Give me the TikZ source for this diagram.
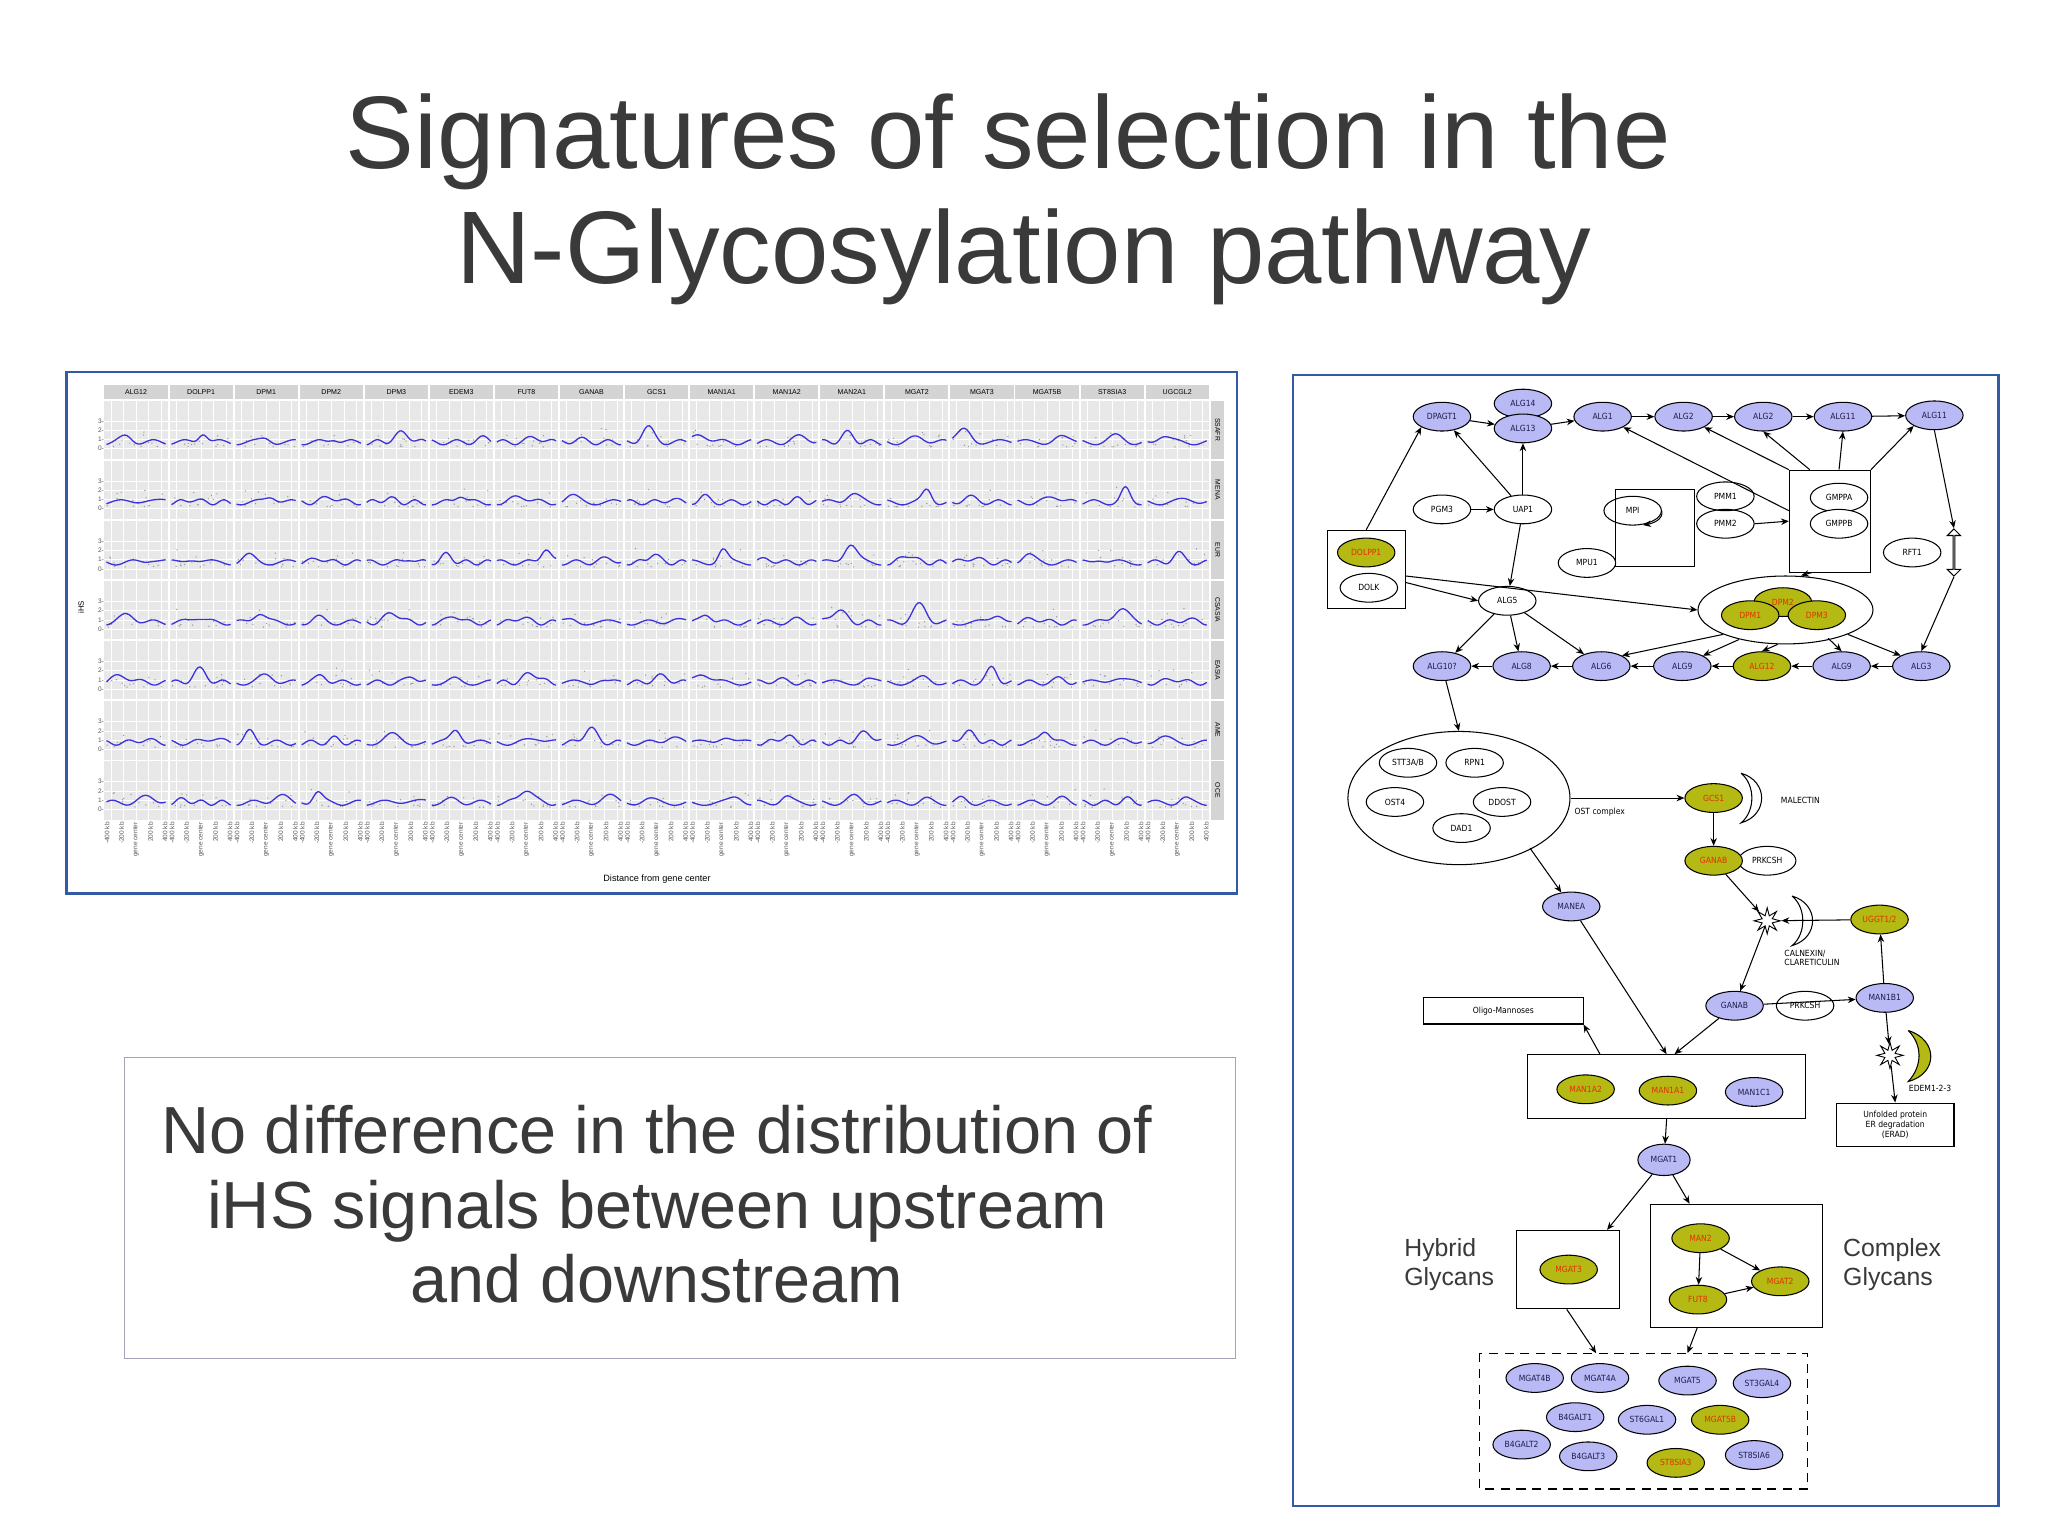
\documentclass[tikz,border=0pt]{standalone}
\usepackage{fontspec}
\setmainfont{Liberation Sans}
\newfontfamily\dvc{DejaVu Sans Condensed}
\usetikzlibrary{shapes.geometric,shapes.arrows,arrows.meta}
\definecolor{blu}{RGB}{185,185,245}
\definecolor{olv}{RGB}{180,185,20}
\definecolor{rtx}{RGB}{225,50,0}
\definecolor{ntx}{RGB}{30,30,80}
\definecolor{ttl}{RGB}{58,58,58}
\definecolor{frm}{RGB}{50,90,165}
\definecolor{pnl}{RGB}{232,232,232}
\definecolor{crv}{RGB}{60,50,220}
\tikzset{
 lab/.style={font=\dvc\fontsize{6.5}{7.5}\selectfont},
 en/.style={ellipse,draw,line width=0.8pt,minimum width=44pt,minimum height=22pt,inner sep=0pt,lab},
 bn/.style={en,fill=blu,text=ntx},
 on/.style={en,fill=olv,text=rtx},
 wn/.style={en,fill=white,text=black},
 grp/.style={draw,line width=0.8pt,inner sep=0pt},
 arr/.style={-{Stealth[length=6pt,width=5pt]},line width=0.8pt},
 curve/.style={crv,line width=1pt},
 tick/.style={font=\fontsize{5}{5.5}\selectfont,text=black!65,inner sep=0.3pt}
}
\begin{document}
\begin{tikzpicture}[x=1pt,y=-1pt]
\useasboundingbox (0,0) rectangle (1568,1175);
\fill[white] (0,0) rectangle (1568,1175);
% title
\node[font=\fontsize{79}{85}\selectfont,text=ttl,anchor=base] (t1) at (772,129) {Signatures of selection in the};
\node[font=\fontsize{79}{85}\selectfont,text=ttl,anchor=base] (t2) at (784,217) {N-Glycosylation pathway};
% plot frame
\draw[frm,line width=1.8pt] (51,285) rectangle (947,684);
\pgfmathsetseed{7}
\foreach \name [count=\i from 0] in {ALG12,DOLPP1,DPM1,DPM2,DPM3,EDEM3,FUT8,GANAB,GCS1,MAN1A1,MAN1A2,MAN2A1,MGAT2,MGAT3,MGAT5B,ST8SIA3,UGCGL2}{
  \pgfmathsetmacro\xa{80+\i*49.82}
  \pgfmathsetmacro\xb{\xa+48.3}
  \fill[black!17] (\xa,295) rectangle (\xb,305.5);
  \node[font=\fontsize{5.4}{6}\selectfont,inner sep=0] at ({(\xa+\xb)/2},300.3) {\name};
  \foreach \r in {0,...,6}{
    \pgfmathsetmacro\ya{307+\r*46}
    \pgfmathsetmacro\yb{\ya+44.5}
    \pgfmathsetmacro\zl{\yb-8}
    \fill[pnl] (\xa,\ya) rectangle (\xb,\yb);
    \foreach \g in {0.1,0.3,0.5,0.7,0.9}{\draw[white,line width=0.4pt] ({\xa+\g*48.3},\ya) -- ({\xa+\g*48.3},\yb);}
    \foreach \g in {0,1,2,3}{\draw[white,line width=0.4pt] (\xa,{\zl-7*\g}) -- (\xb,{\zl-7*\g});}
    \foreach \k in {1,...,12}{
      \pgfmathsetmacro\dx{\xa+2+44*rnd}
      \pgfmathsetmacro\dy{\zl-7*(0.2+2.2*rnd*rnd)}
      \fill[black!40] (\dx,\dy) circle (0.55);
    }
    \pgfmathsetmacro\pa{0.3+1.9*rnd*rnd}
    \pgfmathsetmacro\pb{0.15+0.7*rnd}
    \pgfmathsetmacro\pw{0.01+0.03*rnd}
    \pgfmathsetmacro\pc{8+10*rnd}
    \pgfmathsetmacro\pd{360*rnd}
    \draw[curve] plot[variable=\t,domain=0:1,samples=30,smooth] ({\xa+1.5+45.3*\t},{\zl-7*(0.7+\pa*exp(-((\t-\pb)^2)/\pw)+0.28*sin(\pc*\t*57.3+\pd))});
  }
  \foreach \lbl/\f in {{-400 kb}/0.04,{-200 kb}/0.27,{gene center}/0.5,{200 kb}/0.73,{400 kb}/0.96}{
    \node[tick,rotate=90,anchor=east] at ({\xa+\f*48.3},629) {\lbl};
  }
}
\foreach \s [count=\r from 0] in {SSAFR,MENA,EUR,CSASIA,EASIA,AME,OCE}{
  \pgfmathsetmacro\ya{307+\r*46}
  \fill[black!17] (927.5,\ya) rectangle (937,{\ya+44.5});
  \node[font=\fontsize{5.2}{6}\selectfont,rotate=-90,inner sep=0] at (932.3,{\ya+22}) {\s};
  \foreach \g in {0,1,2,3}{\node[tick,anchor=east] at (80,{\ya+36.5-7*\g}) {\g-};}
}
\node[font=\fontsize{6}{7}\selectfont,rotate=90] (ihs) at (62,465) {iHS};
\node[font=\fontsize{7}{8}\selectfont] (dist) at (503,673) {Distance from gene center};
% text box
\draw[black!25!blue!20!gray!60,line width=0.8pt] (95,810) rectangle (946,1040);
\node[font=\fontsize{51}{57}\selectfont,text=ttl,align=center] (msg) at (503,922) {No difference in the distribution of\\iHS signals between upstream\\and downstream};
% pathway frame
\draw[frm,line width=1.8pt] (990,287) rectangle (1530,1153);
% group boxes
\node[grp,minimum width=60pt,minimum height=60pt] (dolbox) at (1046,436) {};
\node[grp,minimum width=60pt,minimum height=59pt] (mpibox) at (1267,404) {};
\node[grp,minimum width=62pt,minimum height=78pt] (gmpbox) at (1401,399) {};
% top nodes
\node[bn] (dpagt1) at (1104,319) {DPAGT1};
\node[bn] (alg14) at (1166,309) {ALG14};
\node[bn] (alg13) at (1166,328) {ALG13};
\node[bn] (alg1) at (1227,319) {ALG1};
\node[bn] (alg2a) at (1289,319) {ALG2};
\node[bn] (alg2b) at (1350,319) {ALG2};
\node[bn] (alg11a) at (1411,319) {ALG11};
\node[bn] (alg11b) at (1481,318) {ALG11};
\node[wn] (pgm3) at (1104,390) {PGM3};
\node[wn] (uap1) at (1166,390) {UAP1};
\node[en,fill=none,text=black] (mpi) at (1250,391) {MPI};
\node[wn] (pmm1) at (1321,380) {PMM1};
\node[en,fill=none,text=black] (pmm2) at (1321,401) {PMM2};
\node[wn] (mpu1) at (1215,431) {MPU1};
\node[wn] (gmppa) at (1408,381) {GMPPA};
\node[wn] (gmppb) at (1408,401) {GMPPB};
\node[wn] (rft1) at (1464,423) {RFT1};
\node[double arrow,draw,fill=white,line width=0.8pt,rotate=90,minimum width=10pt,double arrow head extend=2.5pt,minimum height=36pt,inner sep=0pt] (dbl) at (1496,423) {};
\node[on] (dolpp1) at (1046,423) {DOLPP1};
\node[wn] (dolk) at (1048,450) {DOLK};
\node[wn] (alg5) at (1154,460) {ALG5};
\node[ellipse,draw,line width=0.8pt,minimum width=134pt,minimum height=52pt,fill=white] (dpm) at (1367,467) {};
\node[on] (dpm2) at (1365,461) {DPM2};
\node[on] (dpm1) at (1340,471) {DPM1};
\node[on] (dpm3) at (1391,471) {DPM3};
\node[bn] (alg10) at (1104,510) {ALG10?};
\node[bn] (alg8) at (1165,510) {ALG8};
\node[bn] (alg6) at (1226,510) {ALG6};
\node[bn] (alg9a) at (1288,510) {ALG9};
\node[on] (alg12) at (1349,510) {ALG12};
\node[bn] (alg9b) at (1410,510) {ALG9};
\node[bn] (alg3) at (1471,510) {ALG3};
% top edges
\draw[arr] (dolbox.north) -- (dpagt1.south west);
\draw[arr] (uap1) -- (dpagt1);
\draw[arr] (uap1) -- (alg13);
\draw[arr] (pgm3) -- (uap1);
\draw[arr] (uap1) -- (alg5);
\draw[arr] (dpagt1) -- (alg13);
\draw[arr] (alg13) -- (alg1);
\draw[arr] (alg1) -- (alg2a);
\draw[arr] (alg2a) -- (alg2b);
\draw[arr] (alg2b) -- (alg11a);
\draw[arr] (alg11a) -- (alg11b);
\draw[arr] (gmpbox.west) ++(0,-8) -- (alg1.south east);
\draw[arr] (gmpbox.north west) -- (alg2a.south east);
\draw[arr] (gmpbox.north west) ++(16,0) -- (alg2b.south);
\draw[arr] (gmpbox.north) ++(7,0) -- (alg11a.south);
\draw[arr] (gmpbox.north east) -- (alg11b.south west);
\draw[arr] (gmpbox.south) ++(-14,0) -- ([xshift=12pt]dpm.north);
\draw[arr] (pmm2.east) -- (gmpbox.west);
\draw[arr] (mpi.east) to[out=-80,in=10] (1258,402);
\draw[arr] (alg11b.south) -- (dbl.east);
\draw[arr] (dbl.west) -- (alg3.north);
\draw[arr] (dolbox.east) ++(0,5) -- (dpm.west);
\draw[arr] (dolbox.east) ++(0,10) -- (alg5.west);
\draw[arr] (alg5) -- (alg10);
\draw[arr] (alg5) -- (alg8);
\draw[arr] (alg5) -- (alg6);
\draw[arr] (dpm.south west) -- (alg6.north east);
\draw[arr] (dpm.south west) ++(12,4) -- (alg9a.north east);
\draw[arr] (dpm.south) ++(-6,0) -- (alg12.north);
\draw[arr] (dpm.south east) ++(-15,3) -- (alg9b.north);
\draw[arr] (dpm.south east) -- (alg3.north west);
\draw[arr] (alg3) -- (alg9b);
\draw[arr] (alg9b) -- (alg12);
\draw[arr] (alg12) -- (alg9a);
\draw[arr] (alg9a) -- (alg6);
\draw[arr] (alg6) -- (alg8);
\draw[arr] (alg8) -- (alg10);
% OST complex
\node[ellipse,draw,line width=0.8pt,minimum width=170pt,minimum height=102pt] (ost) at (1117,611) {};
\node[wn] (stt) at (1078,584) {STT3A/B};
\node[wn] (rpn1) at (1129,584) {RPN1};
\node[wn] (ost4) at (1068,614) {OST4};
\node[wn] (ddost) at (1150,614) {DDOST};
\node[wn] (dad1) at (1119,634) {DAD1};
\node[lab,anchor=west] (ostl) at (1202,622) {OST complex};
\draw[arr] (alg10) -- (ost.north);
\node[on] (gcs1) at (1312,611) {GCS1};
\draw[arr] (ost.east) -- (gcs1);
\draw[line width=0.8pt,fill=white] (1333,592) .. controls (1354,598) and (1354,624) .. (1333,630) .. controls (1344,621) and (1344,601) .. (1333,592);
\node[lab,anchor=west] (malec) at (1360,613) {MALECTIN};
\node[wn] (prk1) at (1353,659) {PRKCSH};
\node[on] (ganab1) at (1312,659) {GANAB};
\draw[arr] (gcs1) -- (ganab1);
\node[bn] (manea) at (1203,694) {MANEA};
\draw[arr] (ost.south east) ++(-6,2) -- (manea);
\node[star,star points=8,star point ratio=2.4,draw,fill=white,line width=0.7pt,minimum size=20pt,inner sep=0pt] (st1) at (1353,705) {};
\draw[line width=0.8pt,fill=white] (1372,686) .. controls (1393,692) and (1393,718) .. (1372,724) .. controls (1383,715) and (1383,695) .. (1372,686);
\node[on] (uggt) at (1439,704) {UGGT1/2};
\node[lab,anchor=north west,align=left,inner sep=0pt] (caln) at (1366,727) {CALNEXIN/\\CLARETICULIN};
\draw[arr] (ganab1) -- (st1);
\draw[arr] (uggt) -- (st1);
\node[wn] (prk2) at (1382,770) {PRKCSH};
\node[bn] (ganab2) at (1328,770) {GANAB};
\draw[arr] (st1) -- (ganab2);
\node[bn] (man1b1) at (1443,764) {MAN1B1};
\draw[arr] (ganab2) -- (man1b1);
\draw[arr] (man1b1) -- (uggt);
\node[star,star points=8,star point ratio=2.4,draw,fill=white,line width=0.7pt,minimum size=20pt,inner sep=0pt] (st2) at (1447,808) {};
\draw[line width=0.8pt,fill=olv] (1461,789) .. controls (1484,796) and (1484,822) .. (1461,828) .. controls (1472,816) and (1472,800) .. (1461,789);
\node[lab,anchor=west] (edem) at (1458,833) {EDEM1-2-3};
\node[grp,minimum width=90pt,minimum height=33pt,lab,align=center] (erad) at (1451,861) {Unfolded protein\\ER degradation\\(ERAD)};
\draw[arr] (man1b1) -- (st2);
\draw[arr] (st2) -- (erad.north);
\node[grp,minimum width=122pt,minimum height=20pt,lab] (oligo) at (1151,774) {Oligo-Mannoses};
\node[grp,minimum width=213pt,minimum height=49pt] (manbox) at (1276,832) {};
\node[on] (man1a2) at (1214,834) {MAN1A2};
\node[on] (man1a1) at (1277,835) {MAN1A1};
\node[bn] (man1c1) at (1343,836) {MAN1C1};
\draw[arr] (manea) -- (manbox.north);
\draw[arr] (ganab2) -- ([xshift=6pt]manbox.north);
\draw[arr] ([xshift=-51pt]manbox.north) -- (oligo.south east);
\node[bn,minimum width=40pt,minimum height=24pt] (mgat1) at (1274,888) {MGAT1};
\draw[arr] (manbox.south) -- (mgat1);
% glycans
\node[grp,minimum width=79pt,minimum height=60pt] (hyb) at (1200.5,972) {};
\node[on] (mgat3) at (1201,972) {MGAT3};
\node[grp,minimum width=131pt,minimum height=94pt] (cpx) at (1329.5,969) {};
\node[on] (man2) at (1302,948) {MAN2};
\node[on] (mgat2) at (1363,981) {MGAT2};
\node[on] (fut8) at (1300,995) {FUT8};
\draw[arr] (man2) -- (fut8);
\draw[arr] (man2) -- (mgat2);
\draw[arr] (fut8) -- (mgat2);
\draw[arr] (mgat1) -- ([xshift=-10pt]hyb.north east);
\draw[arr] (mgat1) -- ([xshift=30pt]cpx.north west);
\node[font=\fontsize{19}{22}\selectfont,align=left,anchor=west,text=ttl,inner sep=0pt] (hybl) at (1075,968) {Hybrid\\Glycans};
\node[font=\fontsize{19}{22}\selectfont,align=left,anchor=west,text=ttl,inner sep=0pt] (cpxl) at (1411,968) {Complex\\Glycans};
\draw[line width=0.8pt,dash pattern=on 7pt off 5pt] (1133,1036) rectangle (1384,1140);
\coordinate (dt1) at (1222,1036);
\coordinate (dt2) at (1292,1036);
\draw[arr] ([xshift=-1pt]hyb.south) -- (dt1);
\draw[arr] ([xshift=-30pt]cpx.south) -- (dt2);
\node[bn] (m4b) at (1175,1055) {MGAT4B};
\node[bn] (m4a) at (1225,1055) {MGAT4A};
\node[bn] (m5) at (1292,1057) {MGAT5};
\node[bn] (st3) at (1349,1059) {ST3GAL4};
\node[bn] (b41) at (1206,1085) {B4GALT1};
\node[bn] (st6) at (1261,1087) {ST6GAL1};
\node[on] (m5b) at (1317,1087) {MGAT5B};
\node[bn] (b42) at (1165,1106) {B4GALT2};
\node[bn] (b43) at (1216,1115) {B4GALT3};
\node[on] (st8a) at (1283,1120) {ST8SIA3};
\node[bn] (st8b) at (1343,1114) {ST8SIA6};
\end{tikzpicture}
\end{document}
